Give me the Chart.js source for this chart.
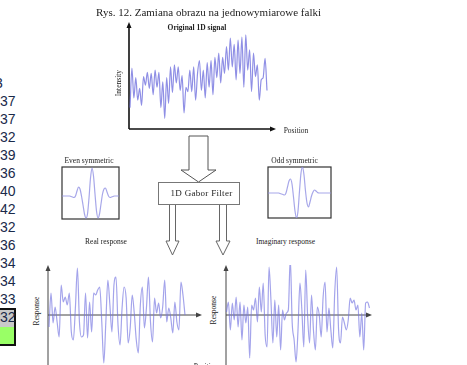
<!DOCTYPE html>
<html>
<head>
<meta charset="utf-8">
<script src="https://cdn.jsdelivr.net/npm/chart.js@4"></script>
<style>
body { margin: 0; width: 467px; height: 365px; overflow: hidden; background: #fff; position: relative; font-family: "Liberation Serif", serif; color: #222; }
canvas { position: absolute; }
.t { position: absolute; white-space: nowrap; line-height: 1; transform: translate(-50%, -50%); }
.rot { transform: translate(-50%, -50%) rotate(-90deg); }
#col { position: absolute; left: 0; top: 73.8px; font-family: "Liberation Sans", Arial, sans-serif; font-size: 14px; line-height: 18px; color: #1a2a4a; }
#cell { position: absolute; left: 0; top: 308px; width: 16px; height: 38px; box-sizing: border-box; border: 2px solid #111; border-left: none;
        background: linear-gradient(#c9c9c9 0, #c9c9c9 17px, #99ff66 17px); }
svg { position: absolute; left: 0; top: 0; }
</style>
</head>
<body>

<div id="cell"></div>
<div id="col"></div>

<svg width="467" height="365">
  <path d="M189,136 L208,136 L208,170 L216,170 L198.5,182 L181,170 L189,170 Z" fill="#fff" stroke="#555" stroke-width="1"/>
  <rect x="158.5" y="182.5" width="81" height="22" fill="#fff" stroke="#777" stroke-width="1"/>
  <path d="M169.5,205 L169.5,241 L166,241 L172.5,255 L179,241 L175.5,241 L175.5,205" fill="#fff" stroke="#666" stroke-width="1"/>
  <path d="M219.5,205 L219.5,241 L216,241 L223,255 L230,241 L226.5,241 L226.5,205" fill="#fff" stroke="#666" stroke-width="1"/>
</svg>

<canvas id="top" width="166" height="121" style="left:122px;top:15px"></canvas>
<canvas id="even" width="61" height="56" style="left:60px;top:165px"></canvas>
<canvas id="odd" width="67" height="55" style="left:266px;top:165px"></canvas>
<canvas id="real" width="166" height="113" style="left:42px;top:259px"></canvas>
<canvas id="imag" width="158" height="113" style="left:220px;top:259px"></canvas>

<div class="t" style="left:208.5px;top:12px;font-size:11px">Rys. 12. Zamiana obrazu na jednowymiarowe falki</div>
<div class="t" style="left:197px;top:28px;font-size:7.5px;font-weight:bold">Original 1D signal</div>
<div class="t rot" style="left:118.5px;top:82.5px;font-size:7.5px">Intensity</div>
<div class="t" style="left:296px;top:130.5px;font-size:7.5px">Position</div>
<div class="t" style="left:89px;top:161px;font-size:7.5px">Even symmetric</div>
<div class="t" style="left:294.5px;top:161px;font-size:7.5px">Odd symmetric</div>
<div class="t" style="left:201.5px;top:193px;font-size:9px;letter-spacing:0.3px">1D Gabor Filter</div>
<div class="t" style="left:106px;top:242px;font-size:7.5px">Real response</div>
<div class="t" style="left:285.5px;top:242px;font-size:7.5px">Imaginary response</div>
<div class="t rot" style="left:37px;top:310.5px;font-size:7.5px">Response</div>
<div class="t rot" style="left:214px;top:310px;font-size:7.5px">Response</div>
<div class="t" style="left:206px;top:367px;font-size:7.5px">Position</div>

<script>
// spreadsheet column at the left edge
const sheetCol = ['3', '37', '37', '32', '39', '36', '40', '42', '32', '36', '34', '34', '33', '32'];

// original 1D signal (intensity, 0..100)
const topSignal = [20, 57, 29, 48, 27, 38, 22, 49, 41, 53, 38, 52, 32, 55, 39, 53, 20, 44, 10, 48,
  24, 58, 34, 60, 43, 58, 36, 50, 15, 39, 35, 55, 35, 58, 27, 52, 64, 36, 55, 29,
  62, 39, 64, 32, 67, 48, 71, 43, 67, 52, 77, 55, 85, 58, 79, 46, 83, 52, 86, 39,
  88, 55, 74, 35, 71, 49, 60, 27, 46, 48, 66, 36];

// gabor kernels
const evenKernel = [0, 0, 0, 0, 0, 0, -0.5, -1, -1.5, 0, 5, 9, 7, 0, -9, -18, -22, -18, -2, 18,
  28, 20, 2, -15, -22, -18, -8, 2, 7, 8, 4, 0, -1.5, -1, -0.5, 0, 0, 0, 0];
const oddKernel = [0, 0, 0, 0, 0, 0, 0, 0, -0.5, -1, -1.5, -2, 0, 6, 12, 14, 9, -4, -18, -25,
  -18, 2, 20, 26, 18, 2, -10, -14, -9, -3, 1, 3, 2, 0.5, 0, 0, 0, 0, 0, 0, 0, 0, 0];

// responses
const realResp = [-12, 22, -8, 8, -7, -22, 30, 13, 18, 10, 22, -17, -25, 7, 47, -7, -22, -20, 22, -23,
  13, -17, 22, 20, 25, 28, -7, -48, -7, 35, 10, -17, 30, 38, -10, -30, 7, 28, 17, -28,
  -13, 20, 2, -25, -38, 10, 28, -13, 7, 38, -7, -27, 17, 2, 12, -3, 8, 35, -7, 7,
  -3, -18, 13, -7, -15, 33, 20, 0];
const imagResp = [3, 13, -15, 12, -5, 18, -12, 13, -25, 10, -8, 8, -43, 10, 5, 17, -7, 28, 3, 32,
  -20, -32, 48, 15, -28, 15, -22, 10, -35, 5, -5, 2, 5, 57, -8, -25, -47, -15, 32, 5,
  -32, 45, -2, -28, 20, -15, -35, 8, 0, -22, 18, 33, -17, 7, -15, -33, 22, 48, -15, -28,
  -2, -8, -15, -5, 17, 12, 15, 5, 10, -22, 2, -35, 12, 13, 7];

const col = document.getElementById('col');
sheetCol.forEach((v, i) => {
    const d = document.createElement('div');
    d.textContent = v;
    if (i === 0) d.style.marginLeft = '-5px';
    col.appendChild(d);
});

function arrowHead(ctx, x, y, dir) {
    ctx.beginPath();
    if (dir === 'up') {
        ctx.moveTo(x, y); ctx.lineTo(x - 2.5, y + 6); ctx.lineTo(x + 2.5, y + 6);
    } else {
        ctx.moveTo(x, y); ctx.lineTo(x - 6, y - 2.5); ctx.lineTo(x - 6, y + 2.5);
    }
    ctx.closePath();
    ctx.fill();
}

const arrowAxes = {
    id: 'arrowAxes',
    beforeDatasetsDraw(chart, args, o) {
        const { ctx, chartArea: a, scales } = chart;
        ctx.save();
        ctx.strokeStyle = o.color;
        ctx.fillStyle = o.color;
        ctx.lineWidth = o.width;
        if (o.box) {
            ctx.strokeRect(a.left, a.top, a.right - a.left, a.bottom - a.top);
        } else {
            const y0 = scales.y.getPixelForValue(0);
            ctx.beginPath();
            ctx.moveTo(a.left, a.bottom);
            ctx.lineTo(a.left, a.top + 4);
            ctx.moveTo(a.left, y0);
            ctx.lineTo(a.right - 4, y0);
            ctx.stroke();
            arrowHead(ctx, a.left, a.top, 'up');
            arrowHead(ctx, a.right, y0, 'right');
        }
        ctx.restore();
    }
};

function makeChart(id, values, c) {
    const pad = c.pad;
    const areaW = document.getElementById(id).width - pad[0] - pad[2];
    const step = c.span / (values.length - 1);
    const xmin = -c.lead / step;
    return new Chart(document.getElementById(id), {
        type: 'line',
        data: {
            datasets: [{
                data: values.map((v, i) => ({ x: i, y: v })),
                borderColor: c.line,
                borderWidth: 1.2,
                pointRadius: 0,
                cubicInterpolationMode: 'monotone',
                fill: false
            }]
        },
        options: {
            responsive: false,
            animation: false,
            layout: { padding: { left: pad[0], top: pad[1], right: pad[2], bottom: pad[3] } },
            scales: {
                x: { type: 'linear', display: false, min: xmin, max: xmin + areaW / step },
                y: { display: false, min: c.ymin, max: c.ymax }
            },
            plugins: {
                legend: { display: false },
                tooltip: { enabled: false },
                arrowAxes: { color: c.axis, width: c.axisW, box: !!c.box }
            }
        },
        plugins: [arrowAxes]
    });
}

makeChart('top', topSignal, { pad: [7, 7, 12, 7], ymin: 0, ymax: 100, lead: 1, span: 137,
    line: 'rgba(105,105,220,0.75)', axis: '#111', axisW: 1.6 });
makeChart('even', evenKernel, { pad: [2, 2, 2, 2], ymin: -23, ymax: 29, lead: 0, span: 57,
    line: 'rgba(145,145,228,0.8)', axis: '#333', axisW: 1.2, box: true });
makeChart('odd', oddKernel, { pad: [2, 2, 2, 2], ymin: -25, ymax: 26, lead: 0, span: 63,
    line: 'rgba(145,145,228,0.8)', axis: '#333', axisW: 1.2, box: true });
makeChart('real', realResp, { pad: [6, 6, 6, 2], ymin: -55, ymax: 50, lead: 1, span: 136,
    line: 'rgba(115,115,225,0.65)', axis: '#444', axisW: 1 });
makeChart('imag', imagResp, { pad: [6, 6, 6, 2], ymin: -55, ymax: 50, lead: 0.5, span: 143,
    line: 'rgba(115,115,225,0.65)', axis: '#444', axisW: 1 });
</script>
</body>
</html>
